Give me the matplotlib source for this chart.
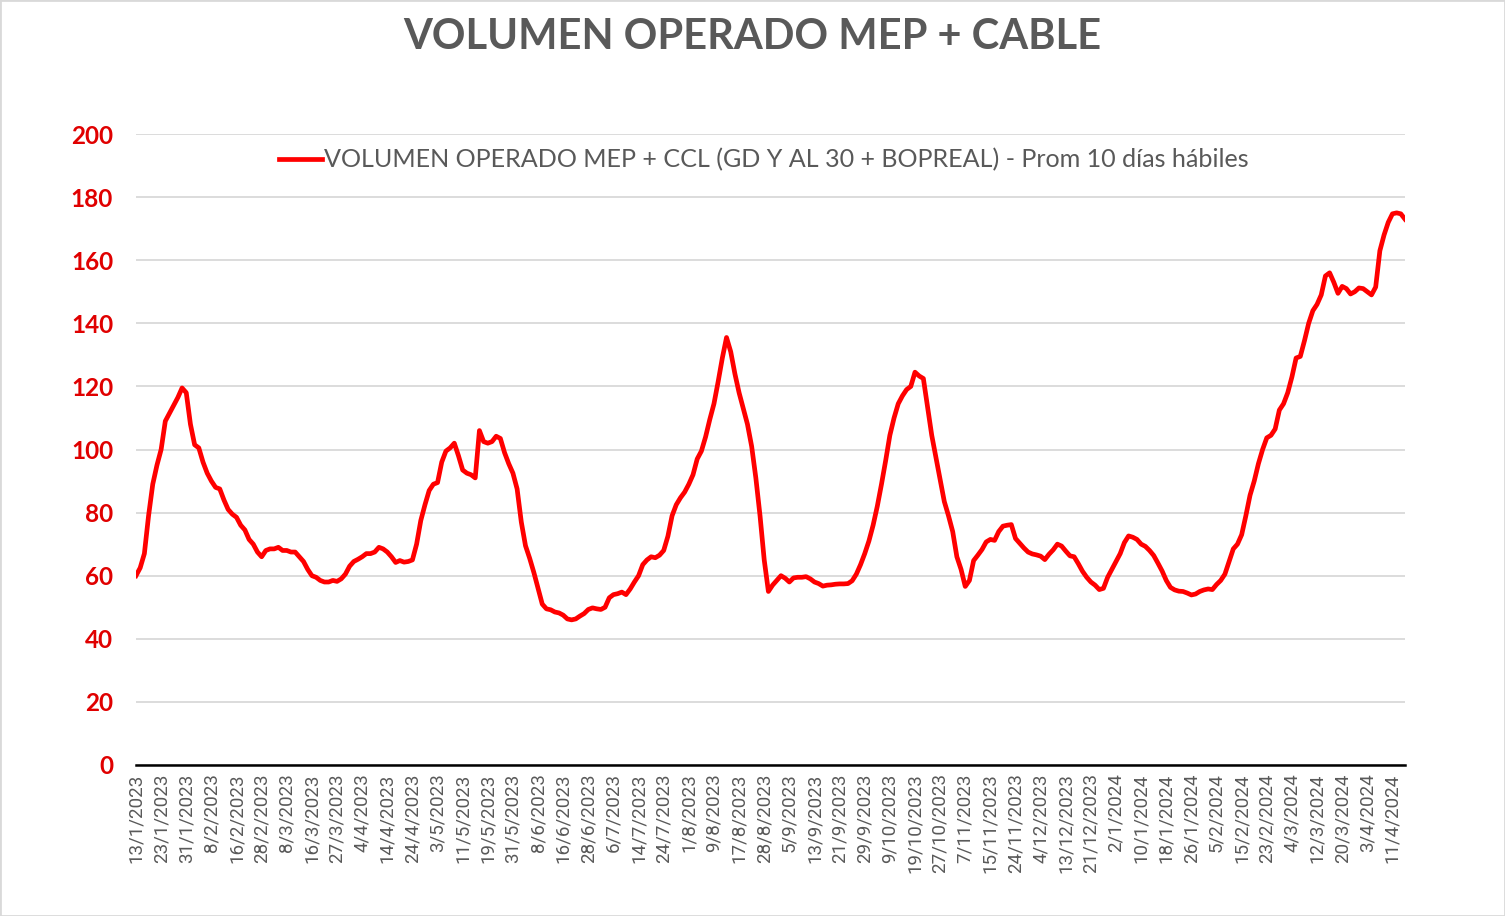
import matplotlib

matplotlib.use("Agg")
import matplotlib.pyplot as plt
import numpy as np
from matplotlib.patches import Rectangle

# Prom 10 días hábiles, one value per business day (13/1/2023 .. 12/4/2024)
volumen = [
    60, 62.5, 67, 79, 89, 95,
    100, 109, 111.5, 114, 116.5, 119.5,
    118, 108, 101.5, 100.5, 96, 92.5,
    90, 88, 87.5, 84, 81, 79.5,
    78.5, 76, 74.5, 71.5, 70, 67.5,
    66, 68, 68.5, 68.5, 69, 68,
    68, 67.5, 67.5, 66, 64.5, 62,
    60, 59.5, 58.5, 58, 58, 58.5,
    58.2, 59, 60.5, 63, 64.5, 65.2,
    66, 67, 67, 67.5, 69, 68.5,
    67.5, 66, 64.2, 64.8, 64.3, 64.5,
    65, 70, 77.5, 82.5, 87, 89,
    89.5, 96, 99.5, 100.5, 102, 98,
    93.5, 92.5, 92, 91, 106, 102.5,
    102, 102.5, 104.2, 103.5, 99, 95.5,
    92.5, 87.5, 77, 69.5, 65.5, 61,
    56, 51, 49.5, 49.2, 48.5, 48.2,
    47.5, 46.3, 46, 46.3, 47.2, 48,
    49.3, 49.8, 49.5, 49.3, 50, 53,
    54, 54.3, 54.8, 54, 55.8, 58,
    60, 63.5, 65, 66, 65.7, 66.5,
    68, 72.5, 79, 82.5, 84.7, 86.5,
    89, 92, 97, 99.5, 104, 109.5,
    114.5, 121.5, 129, 135.5, 131, 124,
    118, 113, 108, 101, 91, 79,
    65, 55, 57, 58.5, 60, 59.2,
    58, 59.3, 59.5, 59.5, 59.7, 59,
    58, 57.5, 56.7, 57, 57.1, 57.3,
    57.4, 57.4, 57.5, 58.4, 60.5, 63.5,
    67, 71, 76, 82, 89, 96.5,
    104.5, 110, 114.5, 117, 119, 120,
    124.5, 123.3, 122.5, 113.5, 104.5, 97.5,
    90.5, 83.5, 79, 74, 66, 62,
    56.6, 58.5, 64.8, 66.5, 68.3, 70.7,
    71.5, 71.2, 74, 75.7, 76, 76.2,
    71.8, 70.3, 68.8, 67.5, 66.9, 66.6,
    66.2, 65.1, 66.8, 68.2, 70, 69.4,
    67.8, 66.3, 66, 63.8, 61.4, 59.5,
    58, 57, 55.6, 56, 59.5, 62,
    64.5, 67, 70.5, 72.6, 72.2, 71.5,
    70, 69.3, 68, 66.4, 64, 61.5,
    58.5, 56.3, 55.5, 55.1, 55, 54.5,
    53.9, 54.2, 55, 55.5, 55.8, 55.6,
    57.2, 58.5, 60.5, 64.5, 68.5, 70,
    73, 79, 85.5, 90, 95.5, 100,
    103.7, 104.5, 106.5, 112.5, 114.5, 118,
    123, 129, 129.5, 134.5, 140, 144,
    146, 149, 155, 156, 153, 149.5,
    151.7, 151, 149.3, 150, 151.2, 151,
    150, 149, 151.5, 163, 168, 172,
    174.7, 175, 174.7, 173,
]

# every 6th business day gets a label
tick_labels = [
    "13/1/2023", "23/1/2023", "31/1/2023", "8/2/2023", "16/2/2023", "28/2/2023",
    "8/3/2023", "16/3/2023", "27/3/2023", "4/4/2023", "14/4/2023", "24/4/2023",
    "3/5/2023", "11/5/2023", "19/5/2023", "31/5/2023", "8/6/2023", "16/6/2023",
    "28/6/2023", "6/7/2023", "14/7/2023", "24/7/2023", "1/8/2023", "9/8/2023",
    "17/8/2023", "28/8/2023", "5/9/2023", "13/9/2023", "21/9/2023", "29/9/2023",
    "9/10/2023", "19/10/2023", "27/10/2023", "7/11/2023", "15/11/2023", "24/11/2023",
    "4/12/2023", "13/12/2023", "21/12/2023", "2/1/2024", "10/1/2024", "18/1/2024",
    "26/1/2024", "5/2/2024", "15/2/2024", "23/2/2024", "4/3/2024", "12/3/2024",
    "20/3/2024", "3/4/2024", "11/4/2024",
]
tick_step = 6

series_label = "VOLUMEN OPERADO MEP + CCL (GD Y AL 30 + BOPREAL) - Prom 10 días hábiles"
title = "VOLUMEN OPERADO MEP + CABLE"

plt.rcParams["font.family"] = ["Lato", "DejaVu Sans"]

fig = plt.figure(figsize=(15.05, 9.16), dpi=100)
ax = fig.add_axes([136 / 1505, 1 - 765 / 916, (1405 - 136) / 1505, (765 - 134) / 916])

x = np.arange(len(volumen))
ax.plot(x, volumen, color="#FF0000", linewidth=3.4, solid_joinstyle="round",
        label=series_label, zorder=3)

ax.set_xlim(0, len(volumen) - 1)
ax.set_ylim(0, 200)
ax.set_yticks(np.arange(0, 201, 20))
ax.set_xticks(np.arange(0, len(tick_labels) * tick_step, tick_step))
ax.set_xticklabels(tick_labels, rotation=90, fontsize=13.5, color="#595959",
                   family=["Roboto", "DejaVu Sans"])
ax.tick_params(axis="y", labelsize=17.5, labelcolor="#E00000", length=0, pad=16.5)
ax.tick_params(axis="x", length=0, pad=6)
for lab in ax.get_yticklabels():
    lab.set_fontweight("bold")

ax.grid(axis="y", color="#D9D9D9", linewidth=1.3)
ax.set_axisbelow(True)
for side in ("top", "right", "left"):
    ax.spines[side].set_visible(False)
ax.spines["bottom"].set_color("#000000")
ax.spines["bottom"].set_linewidth(1.8)
ax.spines["bottom"].set_zorder(4)

leg = ax.legend(loc="upper center", bbox_to_anchor=(0.495, 1.013), frameon=False,
                fontsize=18.1, handlelength=1.7, handletextpad=0.1)
for text in leg.get_texts():
    text.set_color("#595959")

fig.text(0.5, 1 - 37 / 916, title, ha="center", va="center", fontsize=30,
         color="#595959", fontweight="bold")

fig.patches.append(Rectangle((0, 0), 1, 1, transform=fig.transFigure, fill=False,
                             edgecolor="#D9D9D9", linewidth=2))

fig.savefig("out.png", dpi=100)
